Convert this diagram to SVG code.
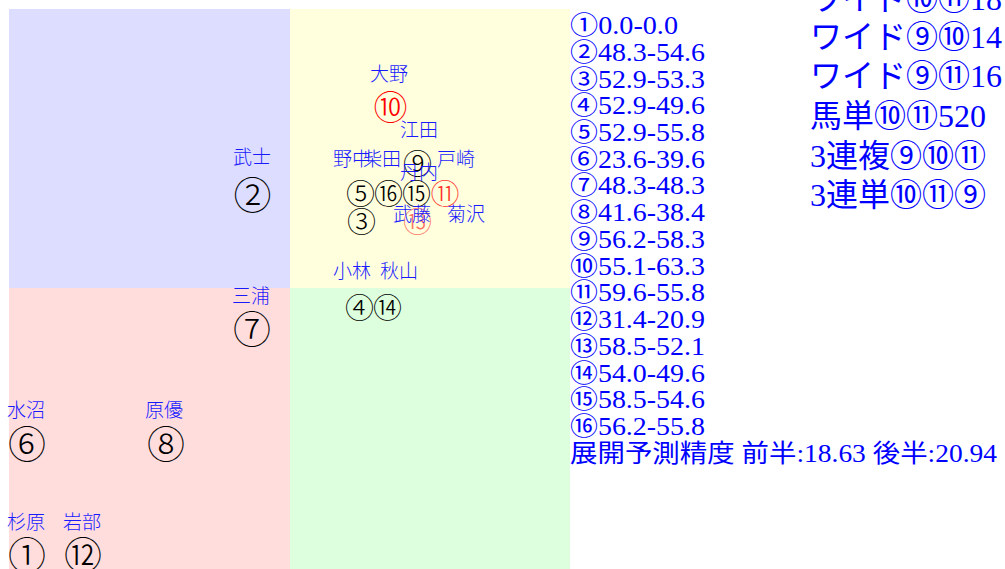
<svg xmlns="http://www.w3.org/2000/svg" width="1005" height="569" viewBox="0 0 1005 569">
<style>
.lbl{font-family:"Noto Sans CJK JP",sans-serif;font-size:19px;font-weight:300;fill:#1a1aff}
.num{font-family:"Noto Sans CJK JP",sans-serif;font-weight:300;fill:#000;text-anchor:middle}
.big{font-size:38px}
.mid{font-size:29px}
.red{fill:#ff0000}
.txt{font-family:"Liberation Serif","Noto Sans CJK JP",serif;fill:#0000ff}
.list{font-size:25px}
.bet{font-size:32px}
</style>
<g id="quadrants">
<rect x="9" y="9" width="281" height="279" fill="#ddddff"/>
<rect x="290" y="9" width="280" height="279" fill="#ffffdd"/>
<rect x="9" y="288" width="281" height="281" fill="#ffdddd"/>
<rect x="290" y="288" width="280" height="281" fill="#ddffdd"/>
</g>
<g id="connectors"/>
<g id="horse-2"><text class="lbl" x="233" y="164">武士</text><text class="num big" x="252.5" y="209">②</text></g>
<g id="horse-7"><text class="lbl" x="232" y="303">三浦</text><text class="num big" x="252" y="343">⑦</text></g>
<g id="horse-6"><text class="lbl" x="7" y="417">水沼</text><text class="num big" x="27" y="458">⑥</text></g>
<g id="horse-8"><text class="lbl" x="145" y="417">原優</text><text class="num big" x="166" y="458">⑧</text></g>
<g id="horse-1"><text class="lbl" x="7" y="529">杉原</text><text class="num big" x="27" y="569">①</text></g>
<g id="horse-12"><text class="lbl" x="63" y="529">岩部</text><text class="num big" x="83" y="569">⑫</text></g>
<g id="horse-10"><text class="lbl" x="370" y="81">大野</text><text class="num red" x="390.5" y="120" style="font-size:34px">⑩</text></g>
<g id="horse-9"><text class="num mid" x="417.5" y="175">⑨</text></g>
<g id="horse-5"><text class="num mid" x="360.5" y="205">⑤</text></g>
<g id="horse-16"><text class="num mid" x="388.5" y="205">⑯</text></g>
<g id="horse-15"><text class="num mid" x="416.5" y="205">⑮</text></g>
<g id="horse-3"><text class="num mid" x="361.5" y="233">③</text></g>
<g id="horse-11"><text class="num mid" x="445" y="205" style="fill:#ff0000;opacity:0.8">⑪</text></g>
<g id="horse-13"><text class="num mid" x="417.5" y="233" style="fill:#ff0000;opacity:0.55">⑬</text></g>
<g id="horse-4"><text class="lbl" x="333" y="278">小林</text><text class="num mid" x="359.5" y="319">④</text></g>
<g id="horse-14"><text class="lbl" x="380" y="278">秋山</text><text class="num mid" x="387.5" y="319">⑭</text></g>
<g id="label-eda"><text class="lbl" x="400" y="137">江田</text></g>
<g id="label-nonaka"><text class="lbl" x="333" y="166">野中</text></g>
<g id="label-shibata"><text class="lbl" x="363" y="166">柴田</text></g>
<g id="label-tosaki"><text class="lbl" x="437" y="166">戸崎</text></g>
<g id="label-tannai"><text class="lbl" x="400" y="179">丹内</text></g>
<g id="label-muto"><text class="lbl" x="393" y="221">武藤</text></g>
<g id="label-kikuzawa"><text class="lbl" x="447" y="221">菊沢</text></g>
<g id="list" class="txt list">
<text x="570" y="34" textLength="108" lengthAdjust="spacingAndGlyphs">①0.0-0.0</text>
<text x="570" y="60.7" textLength="135" lengthAdjust="spacingAndGlyphs">②48.3-54.6</text>
<text x="570" y="87.5" textLength="135" lengthAdjust="spacingAndGlyphs">③52.9-53.3</text>
<text x="570" y="114.2" textLength="135" lengthAdjust="spacingAndGlyphs">④52.9-49.6</text>
<text x="570" y="140.9" textLength="135" lengthAdjust="spacingAndGlyphs">⑤52.9-55.8</text>
<text x="570" y="167.7" textLength="135" lengthAdjust="spacingAndGlyphs">⑥23.6-39.6</text>
<text x="570" y="194.4" textLength="135" lengthAdjust="spacingAndGlyphs">⑦48.3-48.3</text>
<text x="570" y="221.1" textLength="135" lengthAdjust="spacingAndGlyphs">⑧41.6-38.4</text>
<text x="570" y="247.8" textLength="135" lengthAdjust="spacingAndGlyphs">⑨56.2-58.3</text>
<text x="570" y="274.6" textLength="135" lengthAdjust="spacingAndGlyphs">⑩55.1-63.3</text>
<text x="570" y="301.3" textLength="135" lengthAdjust="spacingAndGlyphs">⑪59.6-55.8</text>
<text x="570" y="328" textLength="135" lengthAdjust="spacingAndGlyphs">⑫31.4-20.9</text>
<text x="570" y="354.8" textLength="135" lengthAdjust="spacingAndGlyphs">⑬58.5-52.1</text>
<text x="570" y="381.5" textLength="135" lengthAdjust="spacingAndGlyphs">⑭54.0-49.6</text>
<text x="570" y="408.2" textLength="135" lengthAdjust="spacingAndGlyphs">⑮58.5-54.6</text>
<text x="570" y="434.9" textLength="135" lengthAdjust="spacingAndGlyphs">⑯56.2-55.8</text>
<text x="570" y="461.7" textLength="427" lengthAdjust="spacingAndGlyphs">展開予測精度 前半:18.63 後半:20.94</text>
</g>
<g id="bets" class="txt bet">
<text x="810" y="10">ワイド⑩⑪18</text>
<text x="810" y="48">ワイド⑨⑩14</text>
<text x="810" y="87">ワイド⑨⑪16</text>
<text x="810" y="127">馬単⑩⑪520</text>
<text x="810" y="167">3連複⑨⑩⑪</text>
<text x="810" y="206">3連単⑩⑪⑨</text>
</g>
</svg>
